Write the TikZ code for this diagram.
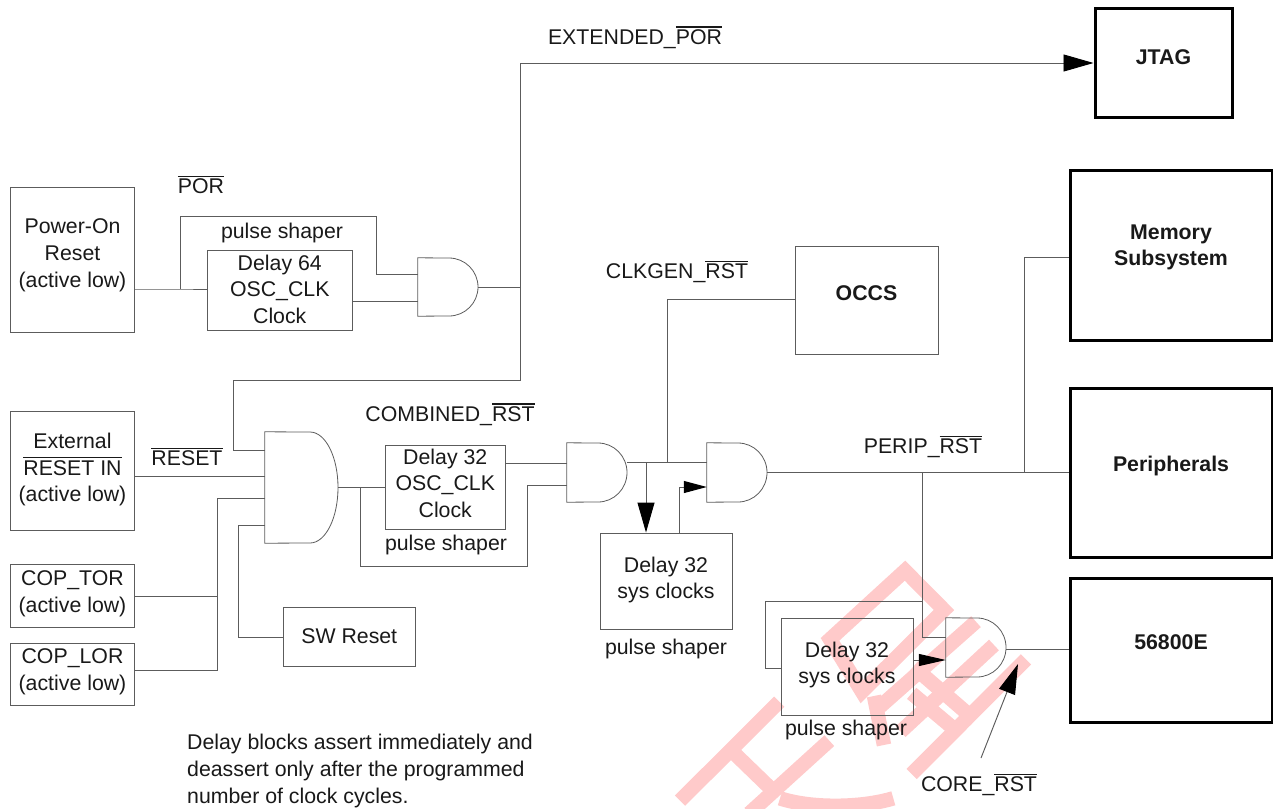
\documentclass[tikz,border=0pt]{standalone}
\usepackage{fontspec}
\setmainfont{Liberation Sans}
\usetikzlibrary{arrows.meta,calc}
\definecolor{wire}{HTML}{5C5C5C}
\definecolor{wmark}{HTML}{FFCACA}
\newcommand\ovl[1]{\leavevmode\vbox{\hrule height 1.3pt\kern2pt\hbox{#1}}}
\tikzset{
  x=1pt,y=-1pt,
  every node/.style={font=\fontsize{21.3}{26.6}\selectfont,text=black!90,inner sep=0pt,align=center},
  boxthin/.style={draw=wire,line width=0.95pt},
  boxthick/.style={draw=black,line width=3pt},
  wirepath/.style={draw=wire,line width=0.95pt},
  gateline/.style={draw=wire,line width=0.8pt},
  tipbig/.style={-{Triangle[length=30pt,width=17pt,color=black]}},
  tipmid/.style={-{Triangle[length=27pt,width=12pt,color=black]}},
  tipsmall/.style={-{Triangle[length=23pt,width=12pt,color=black]}},
  wm/.style={draw=wmark,line width=14.5pt,line cap=butt,line join=miter},
}
% name, x1,y1,x2,y2, style, text, upward shift of the text
\newcommand\bx[8]{\node[#6,minimum width={#4-#2},minimum height={#5-#3},label={[yshift=#8pt]center:{#7}}] (#1) at ({(#2+#4)/2},{(#3+#5)/2}) {};}
% name, x1,y1,xs,x2,y2
\newcommand\gate[6]{%
  \node[minimum width={#5-#2},minimum height={#6-#3}] (#1) at ({(#2+#5)/2},{(#3+#6)/2}) {};
  \pgfmathsetmacro\rx{#5-#4}\pgfmathsetmacro\ry{(#6-#3)/2}
  \draw[gateline] (#1.south west) -- (#1.north west) -- (#4,#3)
    arc[start angle=90,end angle=-90,x radius=\rx pt,y radius=\ry pt] -- cycle;}
\begin{document}
\begin{tikzpicture}
\useasboundingbox (0,0) rectangle (1273,808);
% watermark
\begin{scope}[shift={(660,550)},x=0.3333pt,y=-0.3333pt]
 \draw[wm] (510,268) -- (735,62) -- (852,180) -- (606,425) -- cycle;
 \draw[wm] (948,215) -- (660,470);
 \draw[wm] (642,438) -- (672,585);
 \draw[wm] (1002,285) -- (722,545);
 \draw[wm] (1098,328) -- (755,672);
 \draw[wm] (760,350) -- (945,510);
 \draw[wm] (755,430) -- (880,535);
 \draw[wm] (358,455) -- (60,752);
 \draw[wm] (225,612) -- (352,735);
 \draw[wm] (508,572) -- (268,790);
 \draw[wm] (360,745) .. controls (450,775) and (600,775) .. (700,745);
\end{scope}
% boxes
\bx{pwr}{10.5}{187.5}{134.5}{332}{boxthin}{Power-On\\Reset\\(active low)}{4.5}
\bx{d64}{207.5}{250}{352}{330}{boxthin}{Delay 64\\OSC\_CLK\\Clock}{1}
\bx{ext}{10.5}{411}{134.5}{530}{boxthin}{External\\\ovl{RESET IN}\\(active low)}{1}
\bx{tor}{10.5}{564}{134.5}{627}{boxthin}{COP\_TOR\\(active low)}{1.5}
\bx{lor}{10.5}{643}{134.5}{705}{boxthin}{COP\_LOR\\(active low)}{2.5}
\bx{sw}{283.5}{607}{415}{666}{boxthin}{SW Reset}{0.5}
\bx{d32}{385}{445}{505.5}{529}{boxthin}{Delay 32\\OSC\_CLK\\Clock}{4}
\bx{sysa}{600}{533}{732}{629}{boxthin}{Delay 32\\sys clocks}{1}
\bx{sysb}{781}{618}{913}{715}{boxthin}{Delay 32\\sys clocks}{1.5}
\bx{occs}{795}{246}{938}{354}{boxthin}{\bfseries OCCS}{7}
\bx{jtag}{1095}{9}{1232}{117}{boxthick}{\bfseries JTAG}{6}
\bx{mem}{1070}{170}{1272}{340}{boxthick}{\bfseries Memory\\\bfseries Subsystem}{7.5}
\bx{per}{1070}{388}{1272}{557}{boxthick}{\bfseries Peripherals}{6.5}
\bx{core}{1070}{578}{1272}{722}{boxthick}{\bfseries 56800E}{8}
% gates
\gate{ga}{418}{258}{449}{478}{316}
\gate{gb}{265}{432}{310}{338}{543}
\gate{gc}{567}{443}{598}{627}{502}
\gate{gd}{707}{443}{738}{767}{502}
\gate{ge}{946}{618}{977}{1006}{677}
% labels
\node (t1) at (635,37.5) {EXTENDED\_\ovl{POR}};
\node (t2) at (201,185) {\ovl{POR}};
\node (t3) at (282,233) {pulse shaper};
\node (t4) at (187,457) {\ovl{RESET}};
\node (t5) at (450,414.5) {COMBINED\_\ovl{RST}};
\node (t6) at (446,545) {pulse shaper};
\node (t7) at (677,272) {CLKGEN\_\ovl{RST}};
\node (t8) at (666,649) {pulse shaper};
\node (t9) at (923,447) {PERIP\_\ovl{RST}};
\node (t10) at (846,730) {pulse shaper};
\node (t11) at (979,785) {CORE\_\ovl{RST}};
\node[anchor=west,align=left] (t12) at (187,771) {Delay blocks assert immediately and\\deassert only after the programmed\\number of clock cycles.};
% connector points
\coordinate (j1) at (180,289);
\coordinate (j2) at (520,287);
\coordinate (j3) at (217,596);
\coordinate (j4) at (360,487);
\coordinate (j5) at (667,462);
\coordinate (j6) at (646,462);
\coordinate (j7) at (1024,472);
\coordinate (j8) at (922,472);
\coordinate (j9) at (922,601);
\coordinate (c1) at (981,758);
\coordinate (c2) at (1018,664);
% wires
\draw[wirepath] (pwr.east |- j1) -- (j1) -- (d64.west |- j1);
\draw[wirepath] (j1) -- (180,216) -- (376,216) -- (376,274) -- (ga.west |- 0,274);
\draw[wirepath] (d64.east |- 0,301) -- (ga.west |- 0,301);
\draw[wirepath] (ga.east |- j2) -- (j2);
\draw[wirepath,tipbig] (j2) -- (520,63) -- (jtag.west |- 0,63);
\draw[wirepath] (j2) -- (520,380) -- (233,380) -- (233,450) -- (gb.west |- 0,450);
\draw[wirepath] (ext.east |- 0,476) -- (gb.west |- 0,476);
\draw[wirepath] (tor.east |- j3) -- (j3);
\draw[wirepath] (lor.east |- 0,670) -- (217,670) -- (217,498) -- (gb.west |- 0,498);
\draw[wirepath] (sw.west |- 0,637) -- (238,637) -- (238,525) -- (gb.west |- 0,525);
\draw[wirepath] (gb.east |- j4) -- (d32.west |- j4);
\draw[wirepath] (j4) -- (360,566) -- (527,566) -- (527,485) -- (gc.west |- 0,485);
\draw[wirepath] (d32.east |- 0,463) -- (gc.west |- 0,463);
\draw[wirepath] (gc.east |- j5) -- (gd.west |- j5);
\draw[wirepath] (j5) -- (667,299) -- (occs.west |- 0,299);
\draw[wirepath,tipbig] (j6) -- (j6 |- sysa.north);
\draw[wirepath,tipsmall] (679,533) -- (679,487) -- (gd.west |- 0,487);
\draw[wirepath] (gd.east |- j7) -- (per.west |- j7);
\draw[wirepath] (j7) -- (1024,257) -- (mem.west |- 0,257);
\draw[wirepath] (j8) -- (922,637) -- (ge.west |- 0,637);
\draw[wirepath] (j9) -- (765,601) -- (765,668) -- (sysb.west |- 0,668);
\draw[wirepath,tipmid] (sysb.east |- 0,660) -- (ge.west |- 0,660);
\draw[wirepath] (ge.east |- 0,649) -- (core.west |- 0,649);
\draw[wirepath,tipbig] (c1) -- (c2);
\end{tikzpicture}
\end{document}
